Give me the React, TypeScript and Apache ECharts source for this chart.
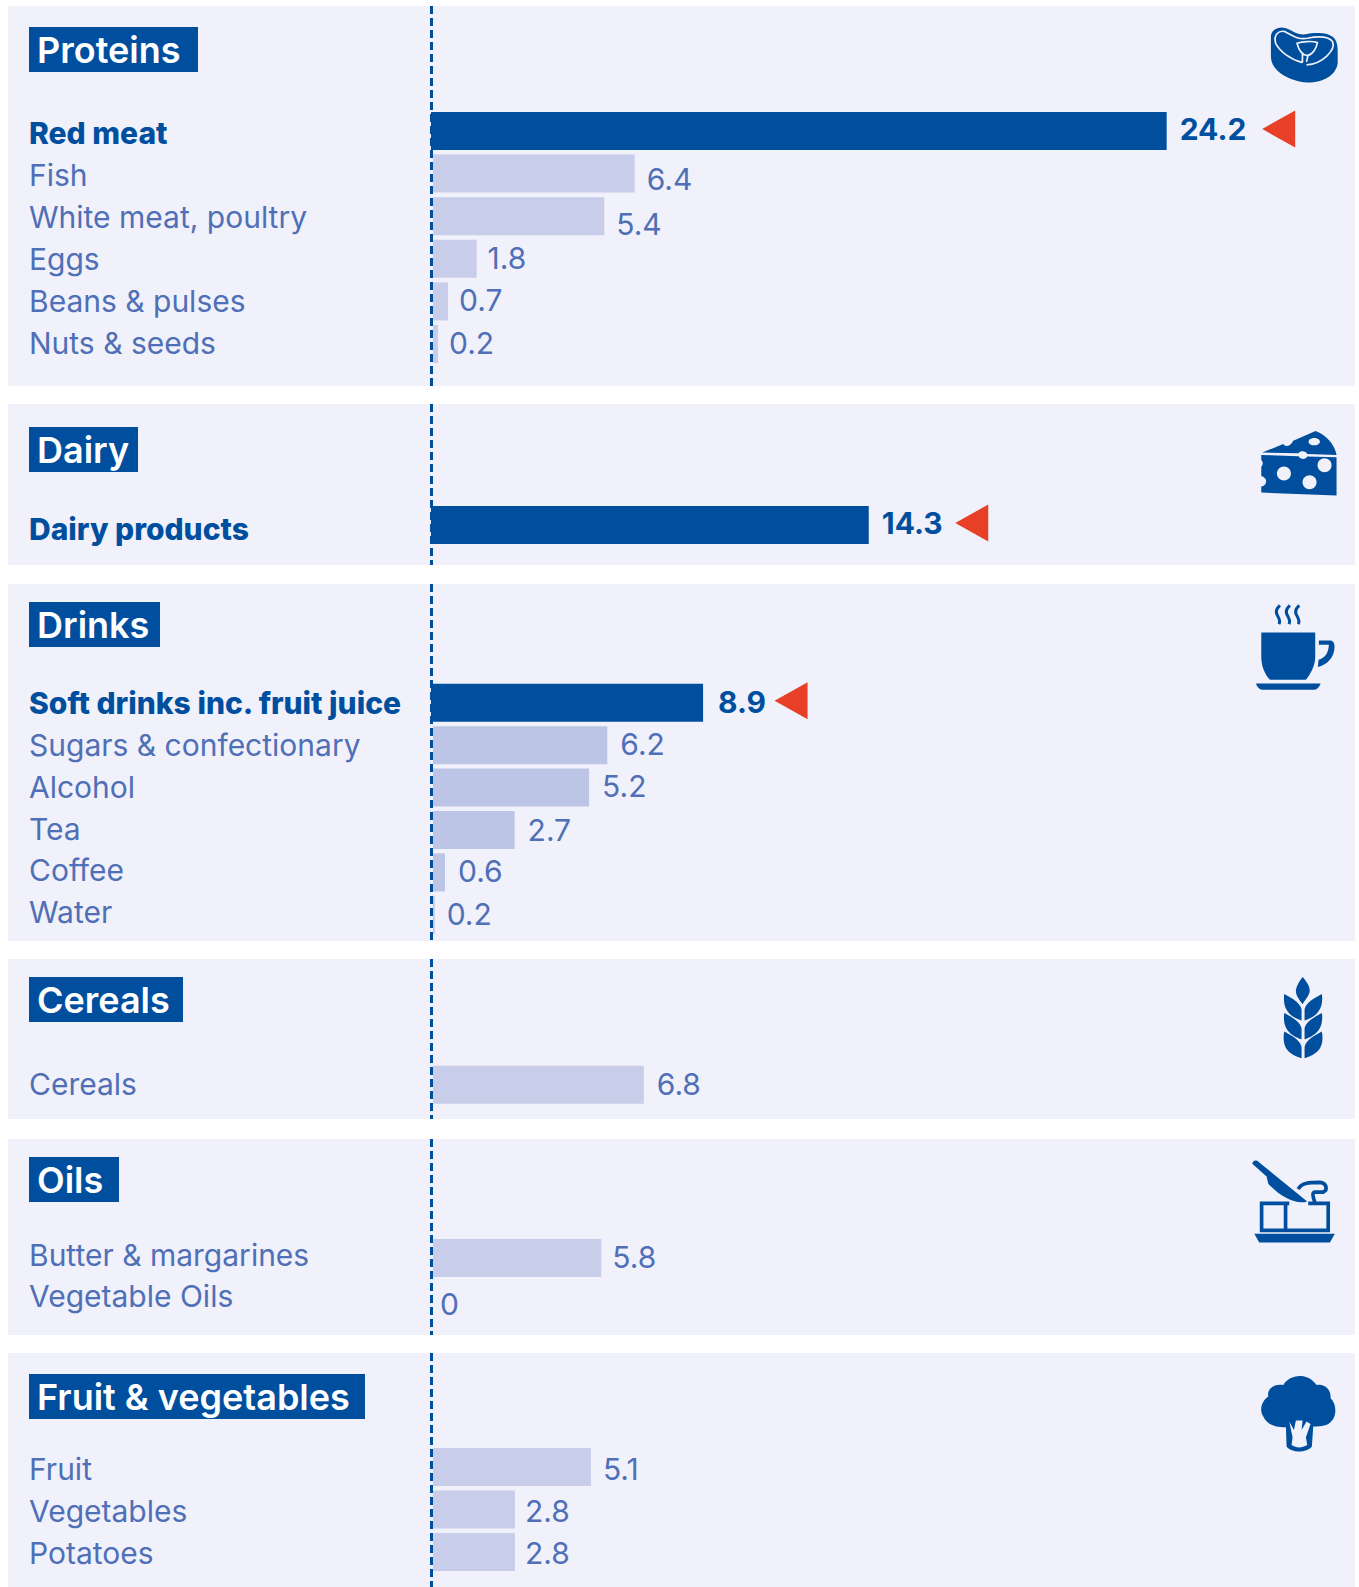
import React, { useEffect, useRef } from "react";
import * as echarts from "echarts";

// ---------- data ----------
const panelTitles = ["Proteins", "Dairy", "Drinks", "Cereals", "Oils", "Fruit & vegetables"];

const proteinCategories = ["Red meat", "Fish", "White meat, poultry", "Eggs", "Beans & pulses", "Nuts & seeds"];
const proteinLabels = ["24.2", "6.4", "5.4", "1.8", "0.7", "0.2"];
const proteinBars = [24.2, 6.7, 5.7, 1.5, 0.56, 0.23];

const dairyCategories = ["Dairy products"];
const dairyLabels = ["14.3"];
const dairyBars = [14.4];

const drinkCategories = ["Soft drinks inc. fruit juice", "Sugars & confectionary", "Alcohol", "Tea", "Coffee", "Water"];
const drinkLabels = ["8.9", "6.2", "5.2", "2.7", "0.6", "0.2"];
const drinkBars = [8.95, 5.8, 5.2, 2.75, 0.46, 0.12];

const cerealCategories = ["Cereals"];
const cerealLabels = ["6.8"];
const cerealBars = [7.0];

const oilCategories = ["Butter & margarines", "Vegetable Oils"];
const oilLabels = ["5.8", "0"];
const oilBars = [5.6, 0];

const fruitCategories = ["Fruit", "Vegetables", "Potatoes"];
const fruitLabels = ["5.1", "2.8", "2.8"];
const fruitBars = [5.26, 2.76, 2.76];

const highlighted = ["Red meat", "Dairy products", "Soft drinks inc. fruit juice"];

// ---------- layout and style ----------
const FONT = "Inter";
const BLUE = "#004f9f";
const TEXT = "#4f6fb6";
const BG = "#f0f1fa";
const LIGHT = "#c8cde9";
const RED = "#e84026";
const ORIGIN_X = 431;
const AXIS_MAX = 30;
const PX_PER_UNIT = 30.4;

const layouts = [
  { cats: proteinCategories, labels: proteinLabels, bars: proteinBars, y0: 6, y1: 386, hy: 27, hw: 169, top: 109.7, pitch: 42.6, light: LIGHT, catDy: [2, 1, 1, 0, 0, -1], dx: [0, -1, -1, -2, -2, -2], dy: [-2, 5, 8, -1, -1, -1], tri: 112 },
  { cats: dairyCategories, labels: dairyLabels, bars: dairyBars, y0: 404, y1: 565, hy: 427, hw: 109, top: 503.7, pitch: 42.6, light: LIGHT, catDy: [4], dx: [0], dy: [-2], tri: 103 },
  { cats: drinkCategories, labels: drinkLabels, bars: drinkBars, y0: 584, y1: 941, hy: 602, hw: 131, top: 681.6, pitch: 42.4, light: "#bcc5e5", catDy: [0, 0, -1, -1, -2, -3], dx: [2, 0, 0, 0, 0, -1], dy: [-1, -1, -2, 0, -1, -1], tri: 88 },
  { cats: cerealCategories, labels: cerealLabels, bars: cerealBars, y0: 959, y1: 1119, hy: 977, hw: 154, top: 1063.5, pitch: 42.6, light: LIGHT, catDy: [-1], dx: [0], dy: [-1], tri: 0 },
  { cats: oilCategories, labels: oilLabels, bars: oilBars, y0: 1139, y1: 1335, hy: 1157, hw: 90, top: 1237, pitch: 42, light: LIGHT, catDy: [-3, -4], dx: [-2, -4], dy: [-1, 4], tri: 0 },
  { cats: fruitCategories, labels: fruitLabels, bars: fruitBars, y0: 1353, y1: 1587, hy: 1374, hw: 336, top: 1445.7, pitch: 42.5, light: LIGHT, catDy: [2, 2, 1], dx: [-1, -3, -3], dy: [2, 2, 1], tri: 0 },
];

const shapes: Record<string, string> = {
  meatBase: "M513,110 C513,90 535,78 555,84 C575,90 590,106 615,103 C640,98 680,95 700,115 C712,130 710,150 710,190 C705,225 670,248 620,248 C570,245 513,215 513,170 Z",
  meatLine: "M606,188 C570,178 540,155 527,130 C520,105 535,90 555,95 C575,105 590,120 620,115 C645,110 680,105 695,125 C705,150 665,192 618,195 M590,130 C605,125 635,122 650,128 C648,145 635,165 620,167 C605,165 595,150 590,130 Z M606,162 L606,188 M622,168 L618,186",
  cheeseTop: "M187,128 L250,102 C255,112 272,110 280,92 L347,63 C380,75 405,105 410,135 L322,132 C318,122 300,122 296,130 Z",
  cheeseBody: "M184,135 L296,139 C302,150 318,150 322,140 L410,142 L410,257 L184,248 L184,230 C200,228 207,205 184,198 L184,170 C190,165 190,155 184,150 Z",
  cupBody: "M184,668 L346,668 L346,740 C346,770 330,795 318,810 L210,810 C195,795 184,770 184,740 Z",
  cupHandle: "M357,692 L390,692 C400,692 404,700 404,710 C404,745 380,765 354,772 L356,750 C375,745 386,730 387,705 L357,705 Z",
  cupSaucer: "M168,821 L362,821 C358,833 350,840 340,840 L190,840 C180,840 172,833 168,821 Z",
  cupSteam: "M240,587 C226,600 228,612 234,620 C240,630 241,636 237,643 M270,587 C256,600 258,612 264,620 C270,630 271,636 267,643 M298,587 C284,600 286,612 292,620 C298,630 299,636 295,643",
  wheat: "M308,51 C325,70 333,85 328,100 C322,115 312,125 308,133 C300,120 290,112 288,95 C288,80 298,65 308,51 Z M253,102 C270,112 300,125 305,148 L305,182 C285,175 245,160 253,102 Z M366,102 C349,112 319,125 314,148 L314,182 C334,175 374,160 366,102 Z M253,159 C270,169 300,182 305,205 L305,238 C285,231 245,216 253,159 Z M366,159 C349,169 319,182 314,205 L314,238 C334,231 374,216 366,159 Z M253,215 C270,225 300,238 305,261 L305,295 C275,285 243,270 253,215 Z M366,215 C349,225 319,238 314,261 L314,295 C344,285 376,270 366,215 Z",
  knife: "M157,612 C160,600 170,600 178,608 L322,725 C290,735 245,715 205,672 L200,650 Z",
  curl: "M295,688 C305,668 330,668 360,668 C380,670 385,690 370,697 L345,697 C335,697 340,715 345,728",
  block: "M268,731 L185,731 L185,812 L385,812 L385,731 L325,731 M257,735 L257,812",
  plate: "M163,822 L405,822 L390,848 L178,848 Z",
  broccoli: "M250,105 C265,76 320,62 350,105 C375,100 395,120 392,145 C410,160 415,205 385,222 C370,230 345,230 340,230 L336,290 C320,310 275,310 260,290 L258,232 C240,232 205,232 190,200 C175,175 190,150 205,140 C200,115 225,100 250,105 Z",
  broccoliCut: "M268,215 L282,240 L288,212 L308,212 L305,240 L320,215 L332,222 L318,262 L322,285 C305,295 290,295 275,285 L278,262 Z",
};
Object.keys(shapes).forEach((n) => {
  echarts.graphic.registerShape(n, (echarts.graphic as any).extendPath(shapes[n], {}));
});

const fill = (type: string, color = BLUE) => ({ type, style: { fill: color } });
const line = (type: string, width: number, color = BLUE) => ({
  type,
  style: { fill: "none", stroke: color, lineWidth: width },
});
const hole = (cx: number, cy: number, rx: number, ry = rx) => ({
  type: "ellipse",
  shape: { cx, cy, rx, ry },
  style: { fill: BG },
});

function icon(x: number, y: number, children: any[], sx = 1 / 3) {
  return { type: "group", x, y, scaleX: sx, scaleY: 1 / 3, z: 5, children };
}

const icons = [
  icon(1097, 0, [fill("meatBase"), line("meatLine", 5, BG)], 1 / 2.95),
  icon(1200, 410, [
    fill("cheeseTop"),
    fill("cheeseBody"),
    hole(343, 95, 17, 11),
    hole(252, 191, 21),
    hole(329, 217, 21),
    hole(374, 166, 21),
  ]),
  icon(1200, 410, [fill("cupBody"), fill("cupHandle"), fill("cupSaucer"), line("cupSteam", 9)]),
  icon(1200, 960, [fill("wheat")]),
  icon(1200, 960, [fill("knife"), line("curl", 11), line("block", 11), fill("plate")]),
  icon(1200, 1350, [fill("broccoli"), fill("broccoliCut", BG)]),
];

function buildOption() {
  const grid: any[] = [];
  const xAxis: any[] = [];
  const yAxis: any[] = [];
  const series: any[] = [];
  const graphic: any[] = [];

  layouts.forEach((p, i) => {
    graphic.push({
      type: "rect",
      shape: { x: 8, y: p.y0, width: 1347, height: p.y1 - p.y0 },
      style: { fill: BG },
      z: 0,
    });
    graphic.push({
      type: "rect",
      shape: { x: 429, y: p.y0, width: 4, height: p.y1 - p.y0 },
      style: { fill: BG },
      z: 2,
    });
    graphic.push({
      type: "line",
      shape: { x1: ORIGIN_X + 0.5, y1: p.y0, x2: ORIGIN_X + 0.5, y2: p.y1 },
      style: { stroke: BLUE, lineWidth: 3, lineDash: [8, 4] },
      z: 2,
    });
    graphic.push({
      type: "rect",
      shape: { x: 29, y: p.hy, width: p.hw, height: 45 },
      style: { fill: BLUE },
      z: 3,
    });
    graphic.push({
      type: "text",
      x: 37,
      y: p.hy + 23,
      z: 4,
      style: {
        text: panelTitles[i],
        fill: "#ffffff",
        font: `600 36px ${FONT}`,
        verticalAlign: "middle",
        align: "left",
      },
    });

    grid.push({
      left: ORIGIN_X,
      top: p.top,
      width: AXIS_MAX * PX_PER_UNIT,
      height: p.pitch * p.cats.length,
      containLabel: false,
      outerBoundsMode: "none",
    });
    xAxis.push({ type: "value", gridIndex: i, min: 0, max: AXIS_MAX, show: false });

    const rich: Record<string, any> = {};
    p.cats.forEach((c, j) => {
      const d = p.catDy[j];
      const isDark = highlighted.includes(c);
      rich[`r${j}`] = {
        fontFamily: FONT,
        fontSize: 30,
        fontWeight: isDark ? 800 : 400,
        color: isDark ? BLUE : TEXT,
        padding: d > 0 ? [d * 2, 0, 0, 0] : [0, 0, -d * 2, 0],
      };
    });

    yAxis.push({
      type: "category",
      gridIndex: i,
      inverse: true,
      axisLine: { show: false },
      axisTick: { show: false },
      splitLine: { show: false },
      axisLabel: {
        show: true,
        interval: 0,
        margin: ORIGIN_X - 29,
        align: "left",
        formatter: (v: string, j: number) => `{r${j}|${v}}`,
        rich,
      },
      data: p.cats,
    });

    const barLabel = (isDark: boolean) => (j: number) => ({
      show: true,
      position: "right",
      distance: 13,
      offset: [p.dx[j], p.dy[j]],
      formatter: p.labels[j],
      fontFamily: FONT,
      fontSize: 30,
      fontWeight: isDark ? 700 : 400,
      color: isDark ? BLUE : TEXT,
    });
    const lightLabel = barLabel(false);
    const darkLabel = barLabel(true);

    series.push({
      type: "bar",
      xAxisIndex: i,
      yAxisIndex: i,
      barWidth: 38,
      barGap: "-100%",
      z: 1,
      itemStyle: { color: p.light },
      data: p.bars.map((v, j) =>
        highlighted.includes(p.cats[j]) ? null : { value: v, label: lightLabel(j) }
      ),
    });
    series.push({
      type: "bar",
      xAxisIndex: i,
      yAxisIndex: i,
      barWidth: 38,
      barGap: "-100%",
      z: 3,
      itemStyle: { color: BLUE },
      data: p.bars.map((v, j) =>
        highlighted.includes(p.cats[j]) ? { value: v, label: darkLabel(j) } : null
      ),
    });
    if (p.tri) {
      series.push({
        type: "scatter",
        xAxisIndex: i,
        yAxisIndex: i,
        z: 4,
        symbol: "triangle",
        symbolSize: [37, 33],
        symbolRotate: 90,
        symbolOffset: [p.tri, -2],
        itemStyle: { color: RED, opacity: 1 },
        data: p.bars
          .map((v, j) => (highlighted.includes(p.cats[j]) ? [v, p.cats[j]] : null))
          .filter(Boolean),
      });
    }
  });

  return {
    animation: false,
    backgroundColor: "#ffffff",
    tooltip: { show: false },
    legend: { show: false },
    grid,
    xAxis,
    yAxis,
    series,
    graphic: { elements: [...graphic, ...icons] },
  };
}

export default function App() {
  const ref = useRef<HTMLDivElement>(null);
  useEffect(() => {
    const chart = echarts.init(ref.current!, undefined, { renderer: "svg" });
    chart.setOption(buildOption() as any);
    return () => chart.dispose();
  }, []);
  return (
    <div
      ref={ref}
      style={{ position: "absolute", left: 0, top: 0, width: 1359, height: 1587 }}
    />
  );
}
